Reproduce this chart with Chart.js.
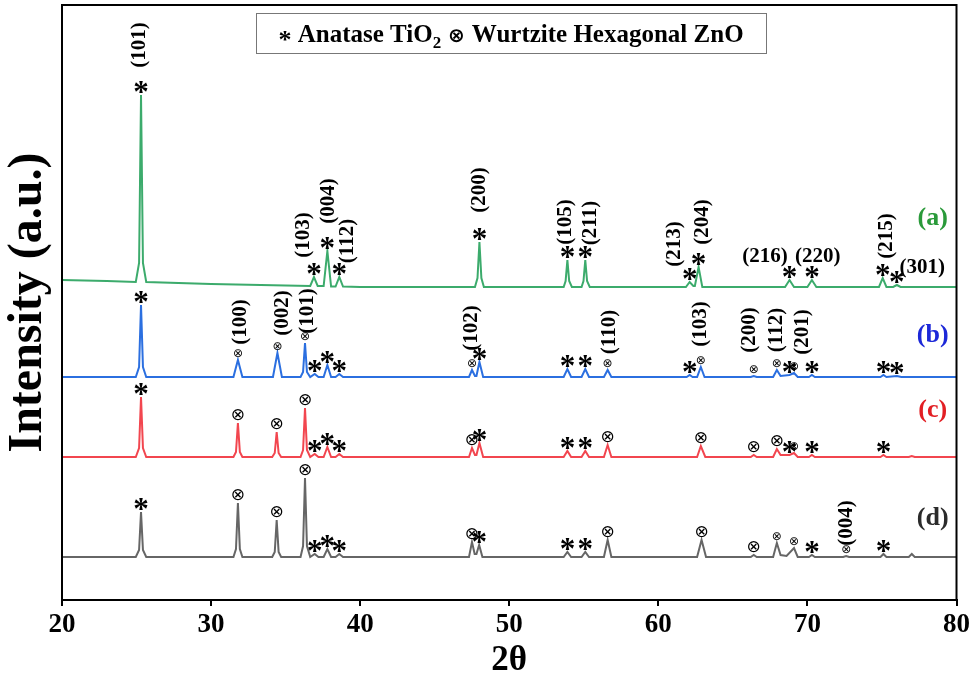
<!DOCTYPE html>
<html lang="en">
<head>
    <meta charset="UTF-8">
    <title>XRD patterns</title>
    <script src="https://cdn.jsdelivr.net/npm/chart.js"></script>
    <style>
        body { margin: 0; background: #fff; }
        canvas { display: block; }
    </style>
</head>
<body>
    <canvas id="xrdChart" width="973" height="682"></canvas>
    <script>
        // 2θ range and tick labels
        const xTicks = [20, 30, 40, 50, 60, 70, 80];

        // Stacking offsets of each pattern (a.u.)
        const offsets = [313, 223, 143, 43];
        const seriesNames = ['(a)', '(b)', '(c)', '(d)'];

        // Intensity above each pattern's own baseline, [2θ, I]
        const patternA = [
            [20, 7], [23, 6], [24.95, 5], [25.17, 24], [25.3, 192], [25.43, 24], [25.65, 5],
            [30, 3], [35, 1.5], [36.65, 1], [36.9, 10], [37.15, 1], [37.55, 1], [37.8, 36], [38.05, 0.5],
            [38.35, 0.5], [38.6, 10], [38.85, 0.5], [40, 0],
            [47.7, 0], [47.87, 9], [48.0, 45], [48.13, 9], [48.3, 0],
            [53.65, 0], [53.78, 6], [53.9, 27], [54.02, 6], [54.2, 0],
            [54.85, 0], [54.98, 6], [55.1, 27], [55.22, 6], [55.4, 0],
            [61.85, 0], [62.1, 5], [62.35, 1], [62.45, 1], [62.7, 20], [62.95, 0],
            [68.5, 0], [68.8, 7], [69.1, 0], [70.0, 0], [70.3, 7], [70.6, 0],
            [74.8, 0], [75.05, 9], [75.3, 0], [75.75, 0], [76.0, 2], [76.25, 0], [80, 0]
        ];
        const patternB = [
            [20, 0], [24.95, 0], [25.17, 10], [25.3, 72], [25.43, 10], [25.65, 0],
            [31.5, 0], [31.8, 17], [32.1, 0],
            [34.15, 0], [34.45, 24], [34.75, 0],
            [36.0, 0], [36.17, 5], [36.3, 34], [36.43, 5], [36.65, 0], [36.95, 3], [37.2, 0],
            [37.55, 0], [37.8, 12], [38.05, 0], [38.35, 0], [38.6, 3], [38.85, 0],
            [47.3, 0], [47.5, 7], [47.7, 1], [47.8, 1], [48.0, 15], [48.25, 0],
            [53.65, 0], [53.9, 8], [54.15, 0], [54.85, 0], [55.1, 8], [55.35, 0],
            [56.35, 0], [56.6, 7], [56.85, 0],
            [61.9, 0], [62.1, 2], [62.3, 0], [62.6, 0], [62.85, 10], [63.1, 0],
            [66.2, 0], [66.4, 1], [66.6, 0], [67.7, 0], [67.95, 7], [68.2, 1], [68.8, 2], [69.1, 4], [69.35, 0],
            [70.1, 0], [70.3, 2], [70.5, 0], [74.9, 0], [75.1, 2], [75.3, 0], [76.0, 1], [76.3, 0], [80, 0]
        ];
        const patternC = [
            [20, 0], [24.95, 0], [25.17, 9], [25.3, 60], [25.43, 9], [25.65, 0],
            [31.5, 0], [31.67, 5], [31.8, 34], [31.93, 5], [32.1, 0],
            [34.1, 0], [34.27, 4], [34.4, 25], [34.53, 4], [34.7, 0],
            [36.0, 0], [36.17, 7], [36.3, 49], [36.43, 7], [36.65, 0], [36.95, 3], [37.2, 0],
            [37.55, 0], [37.8, 10], [38.05, 0], [38.35, 0], [38.6, 3], [38.85, 0],
            [47.3, 0], [47.5, 9], [47.7, 2], [47.8, 2], [48.0, 14], [48.25, 0],
            [53.65, 0], [53.9, 6], [54.15, 0], [54.85, 0], [55.1, 6], [55.35, 0],
            [56.35, 0], [56.6, 12], [56.85, 0],
            [62.6, 0], [62.85, 11], [63.15, 0],
            [66.2, 0], [66.4, 2], [66.6, 0], [67.7, 0], [67.95, 8], [68.2, 2], [68.8, 2], [69.1, 4], [69.35, 0],
            [70.1, 0], [70.3, 2], [70.5, 0], [74.9, 0], [75.1, 2], [75.3, 0], [76.8, 0], [77.0, 1], [77.2, 0], [80, 0]
        ];
        const patternD = [
            [20, 0], [24.95, 0], [25.17, 7], [25.3, 45], [25.43, 7], [25.65, 0],
            [31.5, 0], [31.67, 8], [31.8, 54], [31.93, 8], [32.1, 0],
            [34.1, 0], [34.27, 5], [34.4, 37], [34.53, 5], [34.7, 0],
            [36.0, 0], [36.17, 11], [36.3, 79], [36.43, 11], [36.65, 0], [36.95, 3], [37.2, 0],
            [37.55, 0], [37.8, 8], [38.05, 0], [38.35, 0], [38.6, 3], [38.85, 0],
            [47.3, 0], [47.5, 15], [47.68, 3], [47.8, 3], [47.98, 12], [48.2, 0],
            [53.65, 0], [53.9, 5], [54.15, 0], [54.85, 0], [55.1, 5], [55.35, 0],
            [56.35, 0], [56.6, 17], [56.85, 0],
            [62.6, 0], [62.9, 17], [63.2, 0],
            [66.2, 0], [66.4, 2], [66.6, 0], [67.7, 0], [67.95, 14], [68.2, 2], [68.6, 1], [69.1, 9], [69.35, 0],
            [70.1, 0], [70.3, 2], [70.5, 0], [72.4, 0], [72.6, 1], [72.8, 0], [74.9, 0], [75.1, 3], [75.3, 0],
            [76.8, 0], [77.0, 3], [77.2, 0], [80, 0]
        ];
        const patterns = [patternA, patternB, patternC, patternD];

        // Phase marks on peaks: A = anatase TiO2, Z = ZnO, z = ZnO (small)
        const marksA = [[25.3, 'A'], [36.9, 'A'], [37.8, 'A'], [38.6, 'A'], [48.0, 'A'], [53.9, 'A'], [55.1, 'A'],
            [62.1, 'A'], [62.7, 'A'], [68.8, 'A'], [70.3, 'A'], [75.05, 'A'], [76.0, 'A']];
        const marksB = [[25.3, 'A'], [31.8, 'z'], [34.45, 'z'], [36.3, 'z'], [36.95, 'A'], [37.8, 'A'], [38.6, 'A'],
            [47.5, 'z'], [48.0, 'A'], [53.9, 'A'], [55.1, 'A'], [56.6, 'z'], [62.1, 'A'], [62.85, 'z'],
            [66.4, 'z'], [67.95, 'z'], [68.8, 'A'], [69.1, 'z'], [70.3, 'A'], [75.1, 'A'], [76.0, 'A']];
        const marksC = [[25.3, 'A'], [31.8, 'Z'], [34.4, 'Z'], [36.3, 'Z'], [36.95, 'A'], [37.8, 'A'], [38.6, 'A'],
            [47.5, 'Z'], [48.0, 'A'], [53.9, 'A'], [55.1, 'A'], [56.6, 'Z'], [62.85, 'Z'],
            [66.4, 'Z'], [67.95, 'Z'], [68.8, 'A'], [69.1, 'z'], [70.3, 'A'], [75.1, 'A']];
        const marksD = [[25.3, 'A'], [31.8, 'Z'], [34.4, 'Z'], [36.3, 'Z'], [36.95, 'A'], [37.8, 'A'], [38.6, 'A'],
            [47.5, 'Z'], [47.98, 'A'], [53.9, 'A'], [55.1, 'A'], [56.6, 'Z'], [62.9, 'Z'],
            [66.4, 'Z'], [67.95, 'z'], [69.1, 'z'], [70.3, 'A'], [72.6, 'z'], [75.1, 'A']];
        const markSets = [marksA, marksB, marksC, marksD];

        // hkl labels: [text, 2θ, intensity (stacked), vertical?]
        const hklLabels = [
            ['(101)', 25.2, 555, true], ['(103)', 36.2, 365, true], ['(004)', 37.9, 399, true],
            ['(112)', 39.15, 359, true], ['(200)', 48.0, 410, true], ['(105)', 53.75, 378, true],
            ['(211)', 55.45, 377, true], ['(213)', 61.1, 356, true], ['(204)', 63.0, 378, true],
            ['(216)', 67.15, 343, false], ['(220)', 70.7, 343, false], ['(215)', 75.3, 364, true],
            ['(301)', 77.7, 332, false],
            ['(100)', 32.0, 278, true], ['(002)', 34.8, 287, true], ['(101)', 36.5, 289, true],
            ['(102)', 47.45, 272, true], ['(110)', 56.7, 268, true], ['(103)', 62.85, 276, true],
            ['(200)', 66.15, 270, true], ['(112)', 67.95, 270, true], ['(201)', 69.65, 268, true],
            ['(004)', 72.65, 77, true]
        ];
        // Sample tags: [2θ, intensity]
        const seriesTagPos = [[78.4, 382], [78.4, 265], [78.4, 190], [78.4, 82]];

        const lineColors = ['#3cab6c', '#2b6fe0', '#f2464f', '#666666'];
        const tagColors = ['#2a9a3a', '#1c28d8', '#e21f24', '#2b2b2b'];
        const serif = '"Liberation Serif", "Times New Roman", serif';

        function drawMark(ctx, kind, px, bottomY) {
            if (kind === 'A') {
                ctx.font = 'bold 31px ' + serif;
            } else if (kind === 'Z') {
                ctx.font = '17px "DejaVu Sans"';
            } else {
                ctx.font = '12px "DejaVu Sans"';
            }
            const glyph = kind === 'A' ? '*' : '\u2297';
            const m = ctx.measureText(glyph);
            ctx.fillText(glyph, px, bottomY - m.actualBoundingBoxDescent);
        }

        const xrdMarks = {
            id: 'xrdMarks',
            afterDatasetsDraw(chart) {
                const { ctx, chartArea, scales: { x, y } } = chart;
                ctx.save();
                ctx.fillStyle = '#000';
                ctx.textAlign = 'center';
                ctx.textBaseline = 'alphabetic';

                // symbols above peaks
                patterns.forEach((pattern, i) => {
                    markSets[i].forEach(([pos, kind]) => {
                        const pt = pattern.find(p => p[0] === pos);
                        const px = x.getPixelForValue(pos);
                        const py = y.getPixelForValue(pt[1] + offsets[i]);
                        drawMark(ctx, kind, px, py - 2);
                    });
                });

                // hkl labels
                ctx.font = 'bold 21px ' + serif;
                ctx.textBaseline = 'middle';
                hklLabels.forEach(([text, pos, val, vertical]) => {
                    const px = x.getPixelForValue(pos);
                    const py = y.getPixelForValue(val);
                    ctx.save();
                    ctx.translate(px, py);
                    if (vertical) ctx.rotate(-Math.PI / 2);
                    ctx.fillText(text, 0, 0);
                    ctx.restore();
                });

                // sample tags
                ctx.font = 'bold 26px ' + serif;
                seriesTagPos.forEach(([pos, val], i) => {
                    ctx.fillStyle = tagColors[i];
                    ctx.fillText(seriesNames[i], x.getPixelForValue(pos), y.getPixelForValue(val));
                });

                // frame
                ctx.strokeStyle = '#000';
                ctx.lineWidth = 2;
                ctx.strokeRect(chartArea.left, chartArea.top, chartArea.right - chartArea.left,
                    chartArea.bottom - chartArea.top);

                // legend box
                const boxL = 256, boxR = 766, boxT = 13, boxB = 53;
                ctx.fillStyle = '#fff';
                ctx.fillRect(boxL, boxT, boxR - boxL, boxB - boxT);
                ctx.lineWidth = 1;
                ctx.strokeStyle = '#777';
                ctx.strokeRect(boxL + 0.5, boxT + 0.5, boxR - boxL, boxB - boxT);

                const parts = [
                    { t: '*', f: 'bold 26px ' + serif, dy: 6 },
                    { t: ' Anatase TiO', f: 'bold 25px ' + serif, dy: 0 },
                    { t: '2', f: 'bold 17px ' + serif, dy: 6 },
                    { t: ' \u2297 ', f: 'bold 20px "DejaVu Sans"', dy: 0 },
                    { t: 'Wurtzite Hexagonal ZnO', f: 'bold 25px ' + serif, dy: 0 }
                ];
                ctx.textAlign = 'left';
                ctx.textBaseline = 'alphabetic';
                ctx.fillStyle = '#000';
                let total = 0;
                parts.forEach(p => { ctx.font = p.f; p.w = ctx.measureText(p.t).width; total += p.w; });
                let cx = (boxL + boxR) / 2 - total / 2;
                const base = 42;
                parts.forEach(p => {
                    ctx.font = p.f;
                    ctx.fillText(p.t, cx, base + p.dy);
                    cx += p.w;
                });
                ctx.restore();
            }
        };

        const datasets = patterns.map((pattern, i) => ({
            label: seriesNames[i],
            data: pattern.map(([tt, inten]) => ({ x: tt, y: inten + offsets[i] })),
            borderColor: lineColors[i],
            borderWidth: 2,
            pointRadius: 0,
            tension: 0,
            fill: false
        }));

        new Chart(document.getElementById('xrdChart'), {
            type: 'line',
            data: { datasets: datasets },
            options: {
                responsive: false,
                animation: false,
                layout: { padding: { top: 5, right: 16, left: 0, bottom: 0 } },
                plugins: {
                    legend: { display: false },
                    tooltip: { enabled: false }
                },
                scales: {
                    x: {
                        type: 'linear',
                        min: xTicks[0],
                        max: xTicks[xTicks.length - 1],
                        afterBuildTicks: scale => { scale.ticks = xTicks.map(v => ({ value: v })); },
                        afterFit: scale => { scale.height = 82; },
                        grid: { display: true, drawOnChartArea: false, drawTicks: true, tickLength: 6, color: '#000', lineWidth: 2 },
                        border: { display: true, color: '#000', width: 2 },
                        ticks: {
                            color: '#000',
                            padding: 3,
                            maxRotation: 0,
                            font: { family: serif, size: 27, weight: 'bold' }
                        },
                        title: {
                            display: true,
                            text: '2\u03b8',
                            color: '#000',
                            padding: { top: 0, bottom: 0 },
                            font: { family: serif, size: 35, weight: 'bold', lineHeight: 1.2 }
                        }
                    },
                    y: {
                        min: 0,
                        max: 595,
                        afterFit: scale => { scale.width = 62; },
                        grid: { display: false },
                        border: { display: true, color: '#000', width: 2 },
                        ticks: { display: false },
                        title: {
                            display: true,
                            text: 'Intensity (a.u.)',
                            color: '#000',
                            padding: { top: 0, bottom: 0 },
                            font: { family: serif, size: 48, weight: 'bold', lineHeight: 1.2 }
                        }
                    }
                }
            },
            plugins: [xrdMarks]
        });
    </script>
</body>
</html>
